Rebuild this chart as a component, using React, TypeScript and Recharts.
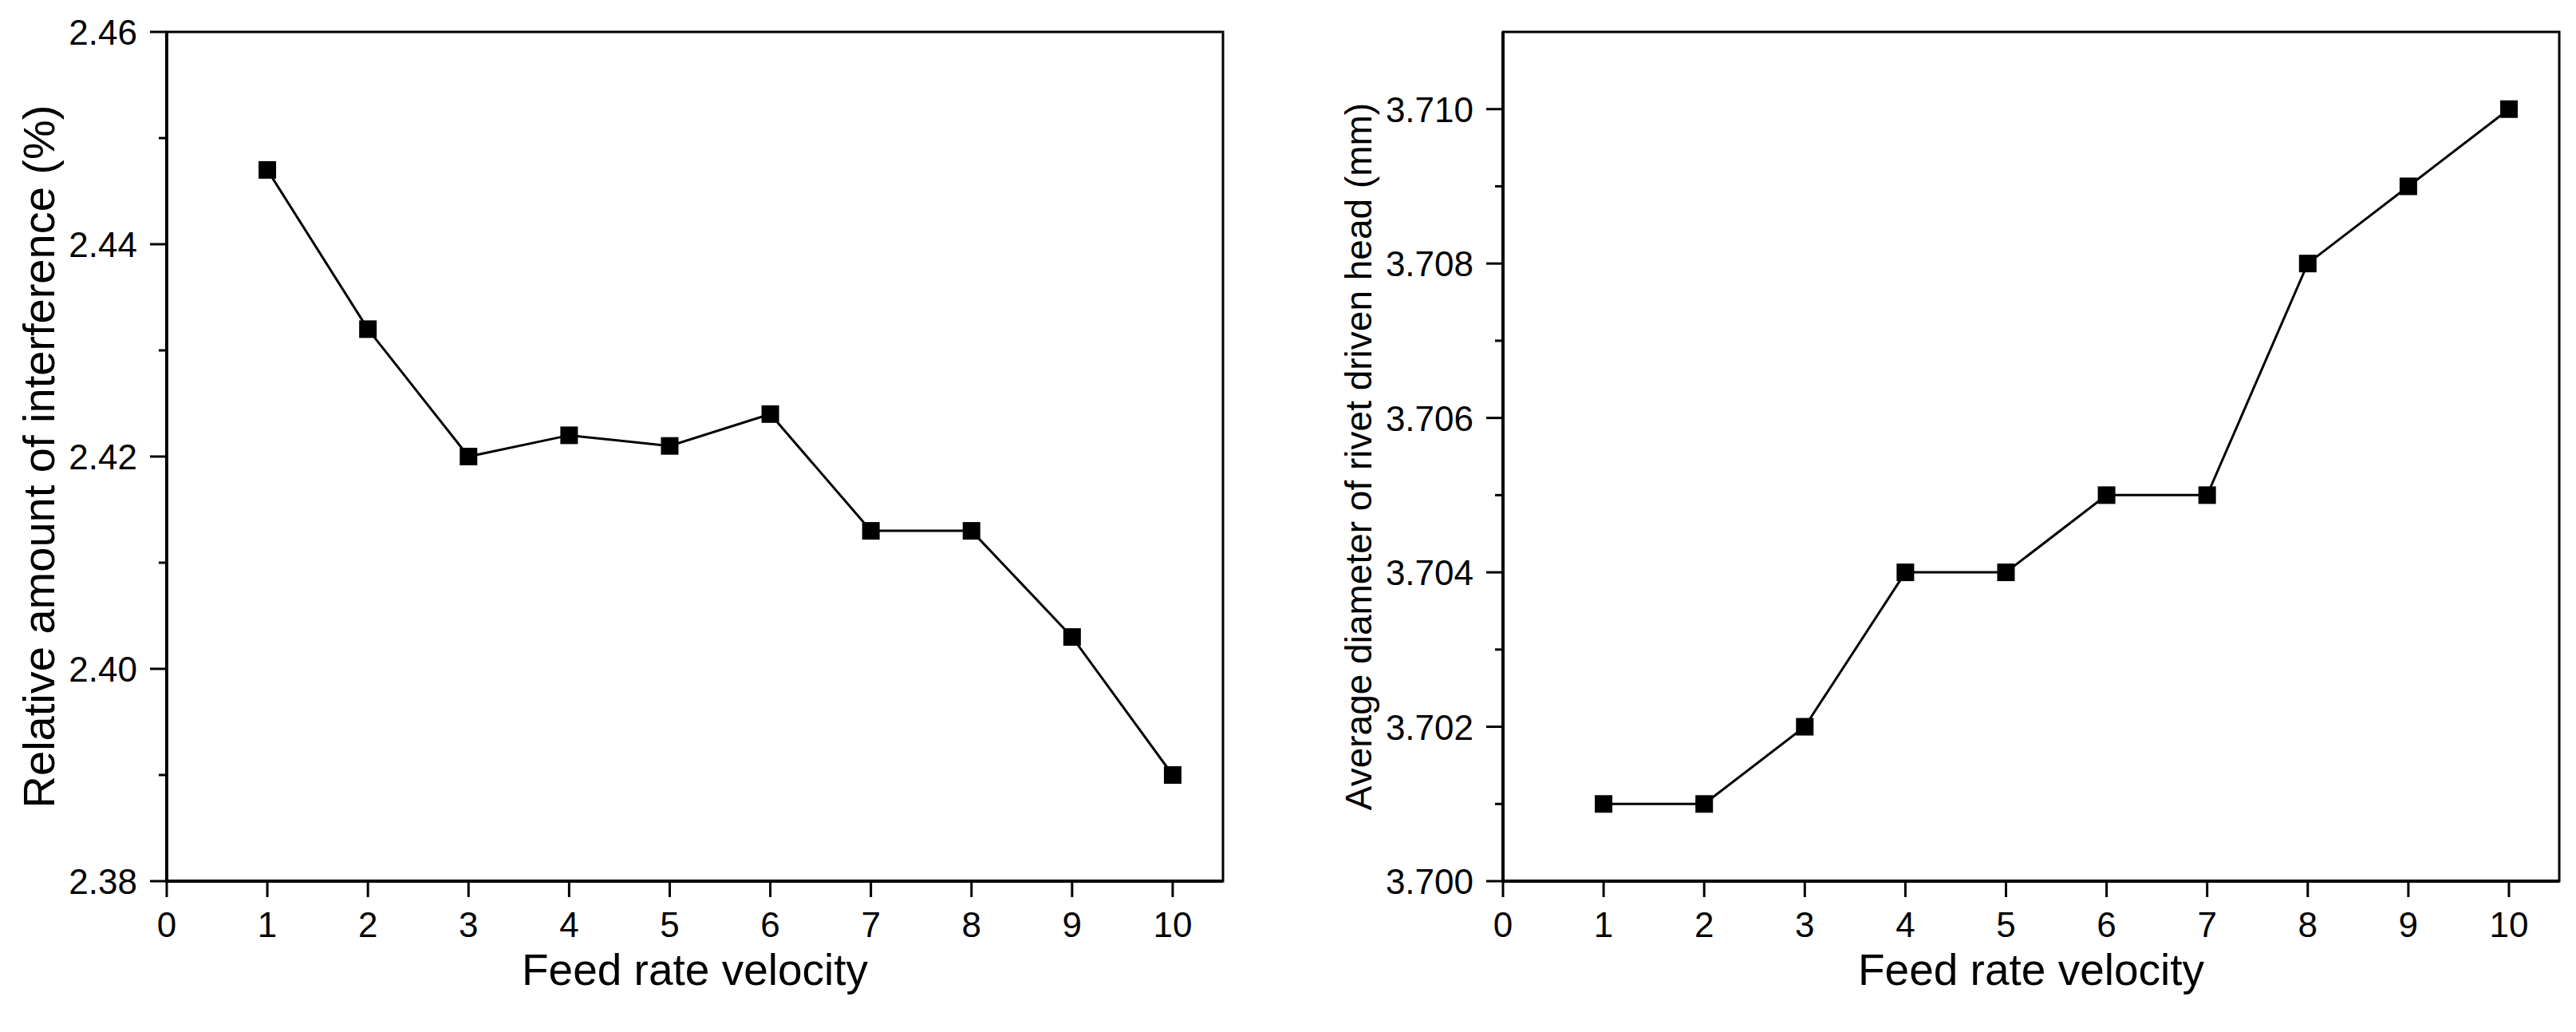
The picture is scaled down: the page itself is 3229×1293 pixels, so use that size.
import { LineChart, Line, XAxis, YAxis, ReferenceArea } from 'recharts'

const velocity = [1, 2, 3, 4, 5, 6, 7, 8, 9, 10]
const interference = [2.447, 2.432, 2.42, 2.422, 2.421, 2.424, 2.413, 2.413, 2.403, 2.39]
const headDiameter = [3.701, 3.701, 3.702, 3.704, 3.704, 3.705, 3.705, 3.708, 3.709, 3.71]

const xTicks = [0, 1, 2, 3, 4, 5, 6, 7, 8, 9, 10]
const leftTicks = [2.38, 2.39, 2.4, 2.41, 2.42, 2.43, 2.44, 2.45, 2.46]
const leftLabels = ['2.38', '2.40', '2.42', '2.44', '2.46']
const rightTicks = [3.7, 3.701, 3.702, 3.703, 3.704, 3.705, 3.706, 3.707, 3.708, 3.709, 3.71]
const rightLabels = ['3.700', '3.702', '3.704', '3.706', '3.708', '3.710']

const FONT = '"Liberation Sans", Arial, sans-serif'

const leftData = velocity.map((v, i) => ({ v, y: interference[i] }))
const rightData = velocity.map((v, i) => ({ v, y: headDiameter[i] }))

function SquareDot(props: any) {
  const { cx, cy, index } = props
  if (cx == null || cy == null) return null
  return <rect key={index} x={cx - 11} y={cy - 11} width={22} height={22} fill="#000" />
}

function makeYTick(labels: string[], digits: number) {
  return (props: any) => {
    const { x, y, payload } = props
    const txt = Number(payload.value).toFixed(digits)
    const major = labels.includes(txt)
    return (
      <g>
        <line x1={x - (major ? 21 : 10)} x2={x} y1={y} y2={y} stroke="#000" strokeWidth={3} />
        {major && (
          <text x={x - 37} y={y + 16} textAnchor="end" fontSize={44} fontFamily={FONT} fill="#000">
            {txt}
          </text>
        )}
      </g>
    )
  }
}

function XTick(props: any) {
  const { x, y, payload } = props
  return (
    <g>
      <line x1={x} x2={x} y1={y} y2={y + 20} stroke="#000" strokeWidth={3} />
      <text x={x} y={y + 70} textAnchor="middle" fontSize={44} fontFamily={FONT} fill="#000">
        {payload.value}
      </text>
    </g>
  )
}

function Panel({ data, ticks, labels, digits, domain, yTitle, yTitleX, yTitleSize, yWidth, width, right }: any) {
  return (
    <LineChart
      width={width}
      height={1293}
      data={data}
      margin={{ top: 40, right, bottom: 19, left: 0 }}
      style={{ fontFamily: FONT }}
    >
      <ReferenceArea
        x1={0}
        x2={10.5}
        y1={domain[0]}
        y2={domain[1]}
        fill="none"
        stroke="#000"
        strokeWidth={3}
        ifOverflow="visible"
      />
      <XAxis
        dataKey="v"
        type="number"
        domain={[0, 10.5]}
        ticks={xTicks}
        interval={0}
        height={170}
        tickSize={0}
        tickMargin={0}
        tickLine={false}
        tick={XTick}
        axisLine={{ stroke: '#000', strokeWidth: 4 }}
        label={{
          content: ({ viewBox }: any) => (
            <text
              x={viewBox.x + viewBox.width / 2}
              y={viewBox.y + 130}
              textAnchor="middle"
              fontSize={55}
              fontFamily={FONT}
              fill="#000"
            >
              Feed rate velocity
            </text>
          ),
        }}
      />
      <YAxis
        type="number"
        domain={domain}
        ticks={ticks}
        interval={0}
        width={yWidth}
        tickSize={0}
        tickMargin={0}
        tickLine={false}
        tick={makeYTick(labels, digits)}
        axisLine={{ stroke: '#000', strokeWidth: 4 }}
        allowDataOverflow
        label={{
          content: ({ viewBox }: any) => {
            const cy = viewBox.y + viewBox.height / 2
            return (
              <text
                transform={`translate(${yTitleX}, ${cy}) rotate(-90)`}
                textAnchor="middle"
                dominantBaseline="central"
                fontSize={yTitleSize}
                fontFamily={FONT}
                fill="#000"
              >
                {yTitle}
              </text>
            )
          },
        }}
      />
      <Line
        dataKey="y"
        stroke="#000"
        strokeWidth={3}
        dot={SquareDot}
        activeDot={false}
        isAnimationActive={false}
      />
    </LineChart>
  )
}

export default function App() {
  return (
    <div style={{ position: 'absolute', left: 0, top: 0, width: 3229, height: 1293, background: '#fff' }}>
      <div style={{ position: 'absolute', left: 0, top: 0 }}>
        <Panel
          data={leftData}
          ticks={leftTicks}
          labels={leftLabels}
          digits={2}
          domain={[2.38, 2.46]}
          yTitle="Relative amount of interference (%)"
          yTitleX={48}
          yTitleSize={56}
          yWidth={209}
          width={1600}
          right={67}
        />
      </div>
      <div style={{ position: 'absolute', left: 1600, top: 0 }}>
        <Panel
          data={rightData}
          ticks={rightTicks}
          labels={rightLabels}
          digits={3}
          domain={[3.7, 3.711]}
          yTitle="Average diameter of rivet driven head (mm)"
          yTitleX={103}
          yTitleSize={46}
          yWidth={284}
          width={1629}
          right={21}
        />
      </div>
    </div>
  )
}
